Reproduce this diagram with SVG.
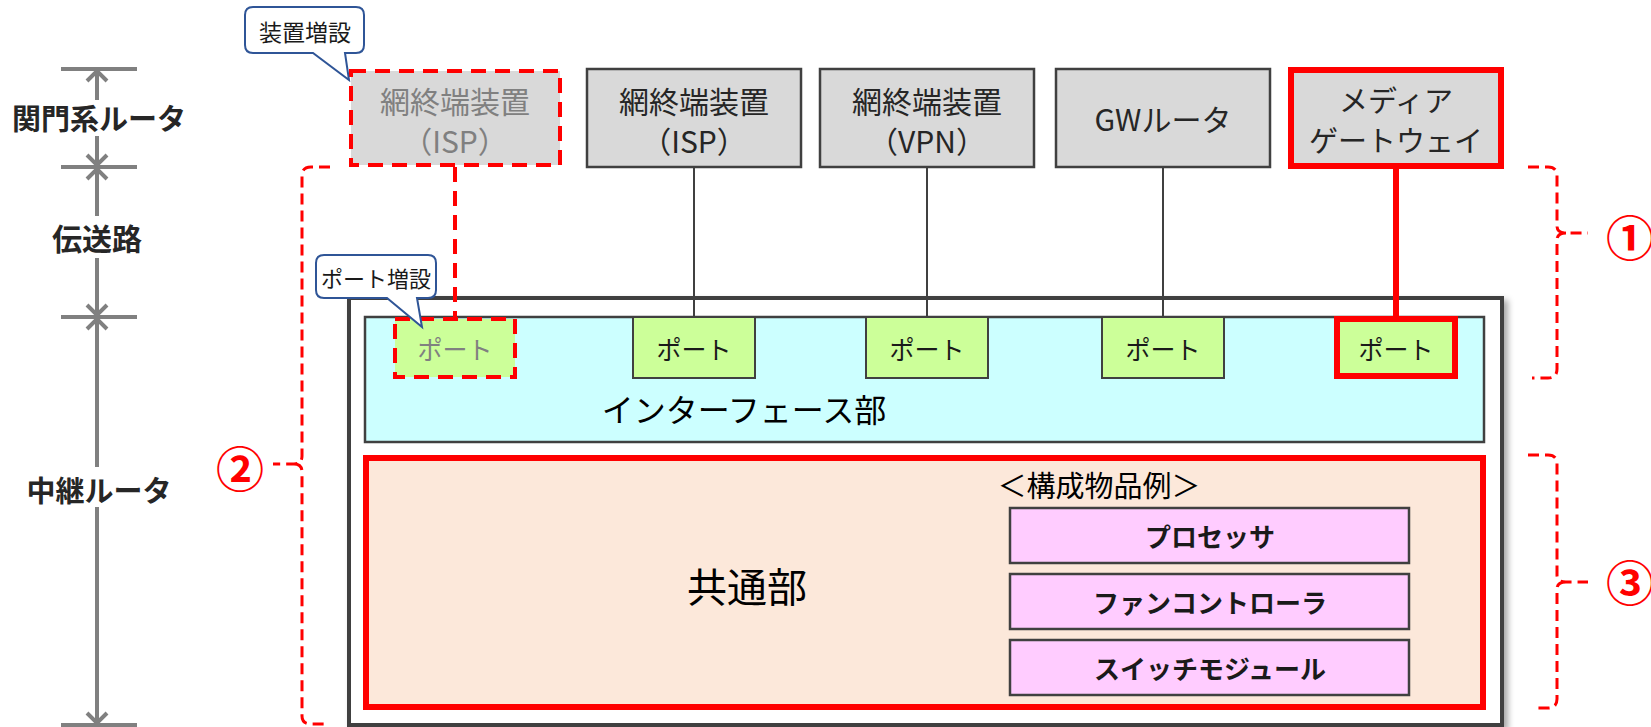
<svg xmlns="http://www.w3.org/2000/svg" width="1651" height="727" viewBox="0 0 1651 727">
<style>
text{font-family:"Noto Sans CJK JP","Noto Sans",sans-serif;text-anchor:middle;dominant-baseline:central}
.dev{fill:#d9d9d9;stroke:#404040;stroke-width:2.5}
.devt{font-size:30px;fill:#262626}
.port{fill:#ccff99;stroke:#404040;stroke-width:2}
.portt{font-size:25px;fill:#1a1a1a}
.pink{fill:#ffccff;stroke:#404040;stroke-width:2.5}
.pinkt{font-size:26px;font-weight:bold;fill:#1a1a1a}
.rdash{fill:none;stroke:#ff0000;stroke-width:4;stroke-dasharray:15 9}
.brace{fill:none;stroke:#ff0000;stroke-width:3;stroke-dasharray:11 6}
.num{font-size:48px;font-weight:bold;fill:#ff0000}
.dim{stroke:#808080;stroke-width:4;fill:none}
.diml{font-size:30px;font-weight:bold;fill:#262626}
.call{fill:#ffffff;stroke:#2f5597;stroke-width:2}
.callt{font-size:22px;fill:#1a1a1a}
.wire{stroke:#404040;stroke-width:2;fill:none}
</style>
<defs>
<filter id="sh" x="-5%" y="-5%" width="110%" height="110%">
<feDropShadow dx="4" dy="4" stdDeviation="3" flood-color="#000" flood-opacity="0.35"/>
</filter>
</defs>

<g id="relay-frame">
<rect x="349" y="298" width="1153" height="427" fill="#ffffff" stroke="#404040" stroke-width="4" filter="url(#sh)"/>
</g>

<g id="interface">
<rect x="365" y="317" width="1119" height="125" fill="#ccffff" stroke="#404040" stroke-width="2.5"/>
<text x="744" y="408" style="font-size:32px;fill:#000">インターフェース部</text>
</g>

<g id="connectors">
<line class="wire" x1="694" y1="167" x2="694" y2="317"/>
<line class="wire" x1="927" y1="167" x2="927" y2="317"/>
<line class="wire" x1="1163" y1="167" x2="1163" y2="317"/>
<line x1="1396" y1="167" x2="1396" y2="318" stroke="#ff0000" stroke-width="6"/>
<line x1="455" y1="167" x2="455" y2="317" stroke="#ff0000" stroke-width="4" stroke-dasharray="15 9"/>
</g>

<g id="port-new">
<rect x="395" y="319" width="120" height="58" fill="#ccff99"/>
<rect class="rdash" x="395" y="319" width="120" height="58"/>
<text class="portt" x="455" y="348" style="fill:#808080">ポート</text>
</g>
<g id="port-isp">
<rect class="port" x="633" y="317" width="122" height="61"/>
<text class="portt" x="694" y="348">ポート</text>
</g>
<g id="port-vpn">
<rect class="port" x="866" y="317" width="122" height="61"/>
<text class="portt" x="927" y="348">ポート</text>
</g>
<g id="port-gw">
<rect class="port" x="1102" y="317" width="122" height="61"/>
<text class="portt" x="1163" y="348">ポート</text>
</g>
<g id="port-mgw">
<rect x="1337" y="319" width="118" height="57" fill="#ccff99" stroke="#ff0000" stroke-width="6"/>
<text class="portt" x="1396" y="348">ポート</text>
</g>

<g id="common">
<rect x="366" y="458" width="1117" height="249" fill="#fce8da" stroke="#ff0000" stroke-width="6"/>
<text x="747" y="585" style="font-size:40px;fill:#000">共通部</text>
<text x="1099" y="484" style="font-size:29px;fill:#000">＜構成物品例＞</text>
</g>
<g id="processor">
<rect class="pink" x="1010" y="508" width="399" height="55"/>
<text class="pinkt" x="1210" y="535">プロセッサ</text>
</g>
<g id="fan">
<rect class="pink" x="1010" y="574" width="399" height="55"/>
<text class="pinkt" x="1210" y="601">ファンコントローラ</text>
</g>
<g id="switch">
<rect class="pink" x="1010" y="640" width="399" height="55"/>
<text class="pinkt" x="1210" y="667">スイッチモジュール</text>
</g>

<g id="dev-new">
<rect x="351" y="71" width="209" height="94" fill="#d9d9d9"/>
<rect class="rdash" x="351" y="71" width="209" height="94"/>
<text class="devt" x="455" y="100" style="fill:#808080">網終端装置</text>
<text class="devt" x="455" y="140" style="fill:#808080">（ISP）</text>
</g>
<g id="dev-isp">
<rect class="dev" x="587" y="69" width="214" height="98"/>
<text class="devt" x="694" y="100">網終端装置</text>
<text class="devt" x="694" y="140">（ISP）</text>
</g>
<g id="dev-vpn">
<rect class="dev" x="820" y="69" width="214" height="98"/>
<text class="devt" x="927" y="100">網終端装置</text>
<text class="devt" x="927" y="140">（VPN）</text>
</g>
<g id="gw-router">
<rect class="dev" x="1056" y="69" width="214" height="98"/>
<text class="devt" x="1163" y="118">GWルータ</text>
</g>
<g id="media-gw">
<rect x="1291" y="70" width="210" height="96" fill="#d9d9d9" stroke="#ff0000" stroke-width="6"/>
<text class="devt" x="1396" y="99" style="font-size:29px">メディア</text>
<text class="devt" x="1396" y="139" style="font-size:29px">ゲートウェイ</text>
</g>

<g id="brace1">
<path class="brace" d="M1528,167 L1548,167 Q1557,167 1557,176 L1557,226 Q1557,233 1566,233 L1588,233 M1566,233 Q1557,233 1557,240 L1557,369 Q1557,378 1548,378 L1532,378"/>
<text class="num" x="1630" y="235">①</text>
</g>
<g id="brace2">
<path class="brace" d="M330,167 L311,167 Q302,167 302,176 L302,456 Q302,464 294,464 L273,464 M294,464 Q302,464 302,472 L302,716 Q302,724 311,724 L328,724"/>
<text class="num" x="240" y="466">②</text>
</g>
<g id="brace3">
<path class="brace" d="M1528,455 L1548,455 Q1557,455 1557,464 L1557,575 Q1557,582 1566,582 L1588,582 M1566,582 Q1557,582 1557,589 L1557,699 Q1557,708 1548,708 L1538,708"/>
<text class="num" x="1630" y="580">③</text>
</g>

<g id="dimension">
<line class="dim" x1="61" y1="69" x2="137" y2="69"/>
<line class="dim" x1="61" y1="167" x2="137" y2="167"/>
<line class="dim" x1="61" y1="317" x2="137" y2="317"/>
<line class="dim" x1="61" y1="725" x2="137" y2="725"/>
<path class="dim" d="M97,70 V100 M97,136 V166 M97,168 V216 M97,258 V316 M97,318 V467 M97,507 V724"/>
<path class="dim" d="M87,81 L97,71 L107,81 M87,155 L97,165 L107,155 M87,179 L97,169 L107,179 M87,305 L97,315 L107,305 M87,329 L97,319 L107,329 M87,713 L97,723 L107,713"/>
<text class="diml" x="99" y="117" style="font-size:29px">関門系ルータ</text>
<text class="diml" x="97" y="237">伝送路</text>
<text class="diml" x="99" y="489" style="font-size:29px">中継ルータ</text>
</g>

<g id="callout-device">
<path class="call" d="M253,7 H356 Q364,7 364,15 V45 Q364,53 356,53 H345 L349,80 L313,53 H253 Q245,53 245,45 V15 Q245,7 253,7 Z"/>
<text class="callt" x="305" y="31" style="font-size:23px">装置増設</text>
</g>
<g id="callout-port">
<path class="call" d="M324,255 H428 Q436,255 436,263 V290 Q436,298 428,298 H417 L422,327 L387,298 H324 Q316,298 316,290 V263 Q316,255 324,255 Z"/>
<text class="callt" x="376" y="277">ポート増設</text>
</g>
</svg>
